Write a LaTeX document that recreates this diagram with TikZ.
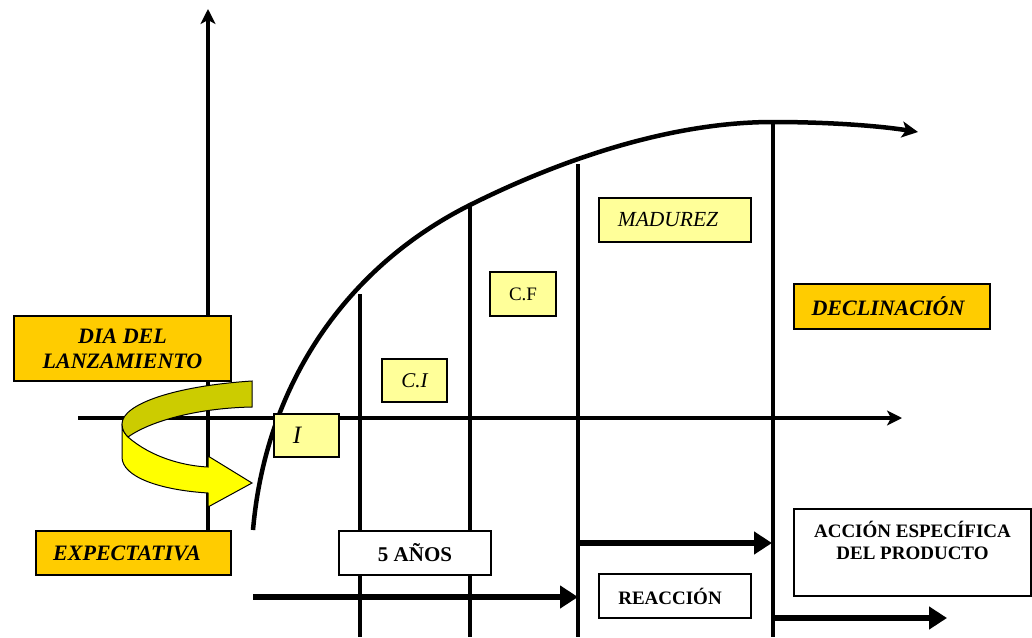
\documentclass[tikz,border=0pt]{standalone}
\usepackage{fontspec}
\setmainfont{Liberation Serif}
\usetikzlibrary{arrows.meta}
\definecolor{orangeY}{HTML}{FFCC00}
\definecolor{paleY}{HTML}{FFFF99}
\definecolor{oliveY}{HTML}{CCCC00}
\definecolor{brightY}{HTML}{FFFF00}
\begin{document}
\begin{tikzpicture}[x=1pt,y=-1pt,
  axis/.style={line width=4.2pt,-{Stealth[length=15pt,width=15pt,inset=4pt]}},
  curveline/.style={line width=4.5pt,-{Stealth[length=16pt,width=16pt,inset=4pt]}},
  thinv/.style={line width=3.2pt},
  thickv/.style={line width=4.5pt},
  flow/.style={line width=5.5pt,-{Triangle[length=18pt,width=22pt]}},
  box/.style={draw=black,line width=1.6pt,inner sep=0pt,align=center},
  orangebox/.style={box,fill=orangeY,font=\fontsize{22}{25}\selectfont\bfseries\itshape},
  palebox/.style={box,fill=paleY,font=\fontsize{21}{24}\selectfont},
  whitebox/.style={box,fill=white,font=\fontsize{19}{22}\selectfont\bfseries},
  foldback/.style={draw=black,line width=1pt,fill=oliveY},
  foldfront/.style={draw=black,line width=1pt,fill=brightY}]
\useasboundingbox (0,0) rectangle (1032,637);
% axes
\coordinate (vaxB) at (208,531);
\coordinate (vaxT) at (208,9);
\coordinate (haxL) at (78,418);
\coordinate (haxR) at (902,418);
\draw[axis] (vaxB) -- (vaxT);
\draw[axis] (haxL) -- (haxR);
% vertical phase lines
\coordinate (v1t) at (360,294); \coordinate (v1b) at (360,637);
\coordinate (v2t) at (470,206); \coordinate (v2b) at (470,637);
\coordinate (v3t) at (578,164); \coordinate (v3b) at (578,637);
\coordinate (v4t) at (773,121); \coordinate (v4b) at (773,637);
\draw[thinv] (v1t) -- (v1b);
\draw[thinv] (v2t) -- (v2b);
\draw[thickv] (v3t) -- (v3b);
\draw[thickv] (v4t) -- (v4b);
% life-cycle curve
\coordinate (cS) at (253,530);
\coordinate (cA) at (470,205);
\coordinate (cB) at (773,122);
\coordinate (cE) at (918,132);
\draw[curveline] (cS) .. controls (266,380) and (350,265) .. (cA)
  .. controls (560,160) and (670,122) .. (cB)
  .. controls (830,122) and (880,126) .. (cE);
% flow arrows
\coordinate (f1s) at (253,597); \coordinate (f1e) at (578,597);
\coordinate (f2s) at (578,543); \coordinate (f2e) at (772,543);
\coordinate (f3s) at (773,618); \coordinate (f3e) at (947,618);
\draw[flow] (f1s) -- (f1e);
\draw[flow] (f2s) -- (f2e);
\draw[flow] (f3s) -- (f3e);
% curved yellow arrow
\draw[foldfront] (128,437) .. controls (152,458) and (185,466) .. (208,467) -- (208,456) -- (252,483) -- (208,507) -- (208,493) .. controls (160,490) and (122,477) .. (122,457) -- (122,424) .. controls (122,430) and (125,434) .. (128,437) -- cycle;
\draw[foldback] (252,381) .. controls (175,386) and (122,404) .. (122,424) .. controls (122,430) and (125,434) .. (128,437) .. controls (152,420) and (200,408) .. (252,407) -- cycle;
% boxes
\node[orangebox,minimum width=217pt,minimum height=65pt] (dia) at (122.5,348.5) {DIA DEL\\LANZAMIENTO};
\node[orangebox,minimum width=195pt,minimum height=44pt] (expect) at (133.5,553) {EXPECTATIVA\hspace{13pt}};
\node[palebox,minimum width=65pt,minimum height=43pt,font=\fontsize{25}{28}\selectfont\itshape] (ibox) at (306.5,435.5) {I\hspace{19pt}};
\node[palebox,minimum width=65pt,minimum height=43pt,font=\fontsize{21}{24}\selectfont\itshape] (ci) at (414.5,380.5) {C.I};
\node[palebox,minimum width=66pt,minimum height=44pt,font=\fontsize{19}{22}\selectfont] (cf) at (523,294) {C.F};
\node[palebox,minimum width=152pt,minimum height=44pt,font=\fontsize{21.5}{24}\selectfont\itshape] (mad) at (675,220) {MADUREZ\hspace{14pt}};
\node[orangebox,minimum width=196pt,minimum height=45pt] (decl) at (892,306.5) {DECLINACIÓN\hspace{8pt}};
\node[whitebox,minimum width=152pt,minimum height=44pt,font=\fontsize{21}{24}\selectfont\bfseries] (anos) at (415,553) {5 AÑOS};
\node[whitebox,minimum width=152pt,minimum height=44pt] (reac) at (675,596) {REACCIÓN\hspace{10pt}};
\node[whitebox,minimum width=237pt,minimum height=87pt,
  label={[anchor=north,yshift=-9pt,align=center,font=\fontsize{19}{22}\selectfont\bfseries]north:{ACCIÓN ESPECÍFICA\\DEL PRODUCTO}}] (accion) at (912.5,552.5) {};
\end{tikzpicture}
\end{document}
